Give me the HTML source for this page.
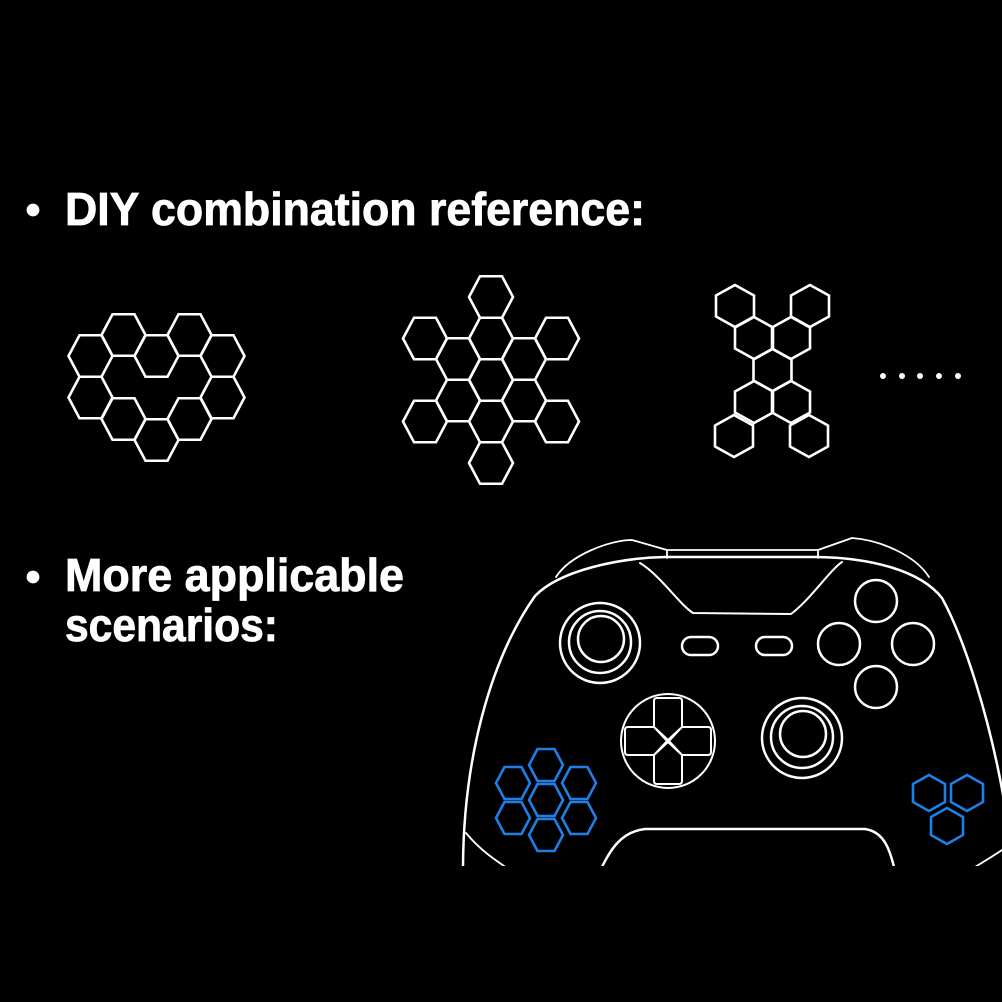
<!DOCTYPE html>
<html><head><style>html,body{margin:0;padding:0;background:#000;}svg{display:block}</style></head>
<body>
<svg width="1002" height="1002" viewBox="0 0 1002 1002" xmlns="http://www.w3.org/2000/svg">
<rect width="1002" height="1002" fill="#000"/>
<defs>
<polygon id="hf" points="-22,0 -11,-20.75 11,-20.75 22,0 11,20.75 -11,20.75" fill="none" stroke="#fff" stroke-width="2.6"/>
<polygon id="hp" points="0,-21 19,-10.5 19,10.5 0,21 -19,10.5 -19,-10.5" fill="none" stroke="#fff" stroke-width="2.6"/>
<polygon id="bf" points="-17,0 -8.5,-16 8.5,-16 17,0 8.5,16 -8.5,16" fill="none" stroke="#1e7fe6" stroke-width="2.6"/>
<polygon id="bp" points="0,-18 16,-9 16,9 0,18 -16,9 -16,-9" fill="none" stroke="#1e7fe6" stroke-width="2.6"/>
<clipPath id="cp"><rect x="0" y="0" width="1002" height="866"/></clipPath>
</defs>
<g font-family="Liberation Sans, sans-serif" font-weight="bold" font-size="46" fill="#fff" stroke="#fff" stroke-width="0.8">
<circle cx="33" cy="210" r="6"/>
<text x="65" y="225" textLength="580" lengthAdjust="spacingAndGlyphs">DIY combination reference:</text>
<circle cx="33" cy="577" r="6"/>
<text x="65" y="591" textLength="339" lengthAdjust="spacingAndGlyphs">More applicable</text>
<text x="65" y="641" textLength="213" lengthAdjust="spacingAndGlyphs">scenarios:</text>
</g>
<use href="#hf" x="90.5" y="356"/><use href="#hf" x="90.5" y="397.5"/>
<use href="#hf" x="123.5" y="335"/><use href="#hf" x="123.5" y="419"/>
<use href="#hf" x="156.5" y="356"/><use href="#hf" x="156.5" y="440"/>
<use href="#hf" x="189.5" y="335"/><use href="#hf" x="189.5" y="419"/>
<use href="#hf" x="222.5" y="356"/><use href="#hf" x="222.5" y="397.5"/>
<use href="#hf" x="491" y="297"/><use href="#hf" x="491" y="338.5"/><use href="#hf" x="491" y="380"/><use href="#hf" x="491" y="421.5"/><use href="#hf" x="491" y="463"/>
<use href="#hf" x="458" y="359"/><use href="#hf" x="458" y="400.5"/>
<use href="#hf" x="524" y="359"/><use href="#hf" x="524" y="400.5"/>
<use href="#hf" x="425" y="338.5"/><use href="#hf" x="425" y="421.5"/>
<use href="#hf" x="557" y="338.5"/><use href="#hf" x="557" y="421.5"/>
<use href="#hp" x="735" y="306"/><use href="#hp" x="810" y="306"/>
<use href="#hp" x="754" y="338"/><use href="#hp" x="791" y="338"/>
<use href="#hp" x="772.5" y="370"/>
<use href="#hp" x="754" y="402"/><use href="#hp" x="791" y="402"/>
<use href="#hp" x="734" y="436"/><use href="#hp" x="809" y="436"/>
<g fill="#fff"><circle cx="883" cy="376" r="3"/><circle cx="902" cy="376" r="3"/><circle cx="920" cy="376" r="3"/><circle cx="939" cy="376" r="3"/><circle cx="958" cy="376" r="3"/></g>
<g clip-path="url(#cp)" fill="none" stroke="#fff" stroke-width="2.5" stroke-linecap="round" stroke-linejoin="round">
<path d="M463 870 C463 760 490 660 535 596 C560 570 620 558 665 557 L818 557 C870 558 920 570 942 598 C965 640 990 720 1004 800"/>
<path d="M556 577 C570 555 610 540 632 540 L667 550 L818 550 L852 538 C880 540 915 555 929 577" stroke-width="1.8"/>
<path d="M667 550 L667 558 M818 550 L818 558" stroke-width="1.8"/>
<path d="M640 563 C660 575 680 605 693 613 L791 614 C810 600 830 570 842 562" stroke-width="2"/>
<path d="M598 875 C610 850 620 832 645 829 L865 829 C885 832 890 850 896 875"/>
<path d="M466 833 C480 850 495 860 510 870 M1002 850 C990 858 980 864 970 870" stroke-width="1.8"/>
<circle cx="600" cy="643" r="40"/><circle cx="600" cy="642" r="31"/><circle cx="601" cy="639" r="23"/>
<circle cx="802" cy="738" r="40"/><circle cx="802" cy="737" r="31"/><circle cx="803" cy="734" r="23"/>
<circle cx="668" cy="741" r="47" stroke-width="2"/>
<path d="M657 698 L679 698 Q682 698 682 701 L682 727 L668 740 L654 727 L654 701 Q654 698 657 698 Z" stroke-width="2"/>
<path d="M657 784 L679 784 Q682 784 682 781 L682 755 L668 742 L654 755 L654 781 Q654 784 657 784 Z" stroke-width="2"/>
<path d="M625 730 L625 752 Q625 755 628 755 L654 755 L667 741 L654 727 L628 727 Q625 727 625 730 Z" stroke-width="2"/>
<path d="M711 730 L711 752 Q711 755 708 755 L682 755 L669 741 L682 727 L708 727 Q711 727 711 730 Z" stroke-width="2"/>
<rect x="682" y="637" width="36" height="18" rx="9"/>
<rect x="756" y="637" width="36" height="18" rx="9"/>
<circle cx="876" cy="601" r="21"/><circle cx="839" cy="644" r="21"/><circle cx="913" cy="644" r="21"/><circle cx="876" cy="687" r="21"/>
</g>
<use href="#bf" x="546" y="765"/><use href="#bf" x="513" y="783"/><use href="#bf" x="579" y="783"/>
<use href="#bf" x="546" y="800"/><use href="#bf" x="513" y="818"/><use href="#bf" x="579" y="818"/><use href="#bf" x="546" y="835"/>
<use href="#bp" x="929" y="793"/><use href="#bp" x="967" y="793"/><use href="#bp" x="947" y="826"/>
</svg>
</body></html>
